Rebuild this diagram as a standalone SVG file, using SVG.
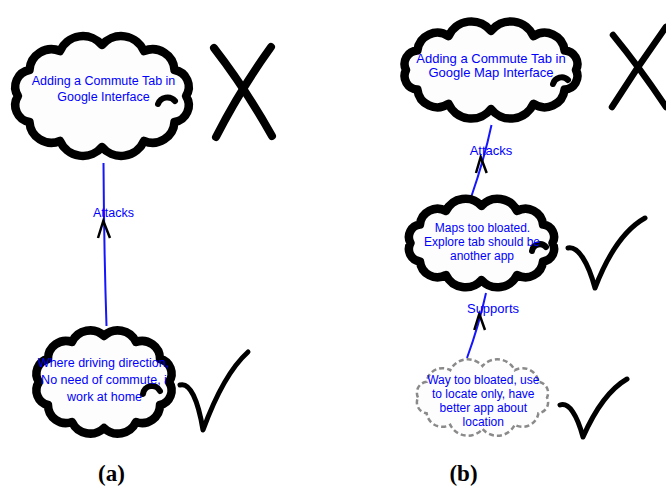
<svg xmlns="http://www.w3.org/2000/svg" width="666" height="491" viewBox="0 0 666 491">
<style>
.cloud{fill:#fdfdfd;stroke:#000;stroke-width:8.5;stroke-linejoin:round}
.dcloud{fill:#fdfdfd;stroke:#8a8a8a;stroke-width:2.5;stroke-dasharray:5 3}
.curl{fill:none;stroke:#000;stroke-width:6;stroke-linecap:round}
.mark{fill:none;stroke:#000;stroke-linecap:round;stroke-linejoin:round}
.t{font-family:"Liberation Sans",Arial,sans-serif;fill:#0000ff;text-anchor:middle}
.ta{font-size:12.5px}
.tb{font-size:13px}
.tc{font-size:12px}
.edge{fill:none;stroke:#1515ff;stroke-width:2}
.chev{fill:none;stroke:#000;stroke-width:2.5;stroke-linejoin:miter}
.cap{font-family:"Liberation Serif","Times New Roman",serif;font-weight:bold;font-size:23px;fill:#000;text-anchor:middle}
</style>
<rect width="666" height="491" fill="#fff"/>

<g id="connectors">
  <path class="edge" d="M103.5,163 Q104,250 106.5,326"/>
  <path class="chev" d="M98,238 L103.3,221 L110,238"/>
  <text class="t ta" x="113.5" y="216.5">Attacks</text>

  <path class="edge" d="M491.5,125 Q484,160 471.5,196"/>
  <path class="chev" d="M476,173 L480.7,157 L486.7,173"/>
  <text class="t tb" x="491" y="155">Attacks</text>

  <path class="edge" d="M486,293 Q479,325 467,358"/>
  <path class="chev" d="M474.3,330 L479.3,314 L485,330"/>
  <text class="t tb" x="493" y="312.5">Supports</text>
</g>

<g id="node-a1">
  <path class="cloud" d="M18,96 A17,17 0 0 1 29.5,70 A22,22 0 0 1 60,51 A25,25 0 0 1 102,45 A25,25 0 0 1 144,51 A22,22 0 0 1 174.5,70 A17,17 0 0 1 186,96 A17,17 0 0 1 174.5,122 A22,22 0 0 1 144,141 A25,25 0 0 1 102,147 A25,25 0 0 1 60,141 A22,22 0 0 1 29.5,122 A17,17 0 0 1 18,96 Z"/>
  <path class="curl" d="M158,104 A10,10 0 0 1 175,101"/>
  <text class="t ta" x="103.5" y="84.5">Adding a Commute Tab in</text>
  <text class="t ta" x="103.5" y="100.5">Google Interface</text>
</g>
<g id="mark-a1">
  <path class="mark" stroke-width="8" d="M214,48 Q245,88 272,136"/>
  <path class="mark" stroke-width="8" d="M271,47 Q240,90 216,137"/>
</g>

<g id="node-a2">
  <path class="cloud" d="M39,382 A15,15 0 0 1 48,359 A18,18 0 0 1 72,342 A20,20 0 0 1 104,336 A20,20 0 0 1 136,342 A18,18 0 0 1 160,359 A15,15 0 0 1 169,382 A15,15 0 0 1 160,405 A18,18 0 0 1 136,422 A20,20 0 0 1 104,428 A20,20 0 0 1 72,422 A18,18 0 0 1 48,405 A15,15 0 0 1 39,382 Z"/>
  <path class="curl" d="M143,394 A9,9 0 0 1 160,391"/>
  <text class="t ta" x="103.5" y="367">Where driving direction,</text>
  <text class="t ta" x="104" y="384">No need of commute, i</text>
  <text class="t ta" x="104.5" y="400.5">work at home</text>
</g>
<g id="mark-a2">
  <path class="mark" stroke-width="5" d="M180,385 C190,382 198,400 203,430 C214,400 228,370 248,352"/>
</g>

<g id="node-b1">
  <path class="cloud" stroke-width="7.5" d="M406,70 A13.5,13.5 0 0 1 417.4,50.5 A20,20 0 0 1 448.5,36.2 A25,25 0 0 1 491,31 A25,25 0 0 1 533.5,36.2 A20,20 0 0 1 564.6,50.5 A13.5,13.5 0 0 1 576,70 A13.5,13.5 0 0 1 564.6,89.5 A20,20 0 0 1 533.5,103.8 A25,25 0 0 1 491,109 A25,25 0 0 1 448.5,103.8 A20,20 0 0 1 417.4,89.5 A13.5,13.5 0 0 1 406,70 Z"/>
  <path class="curl" d="M553,84 A9,9 0 0 1 568,80"/>
  <text class="t tb" x="491" y="62.5">Adding a Commute Tab in</text>
  <text class="t tb" x="491" y="77">Google Map Interface</text>
</g>
<g id="mark-b1">
  <path class="mark" stroke-width="6.5" d="M613,35 Q640,68 666,107"/>
  <path class="mark" stroke-width="6.5" d="M666,27 Q638,66 612,107"/>
</g>

<g id="node-b2">
  <path class="cloud" stroke-width="7.5" d="M410.5,243 A12.5,12.5 0 0 1 420,224.5 A17.5,17.5 0 0 1 446,211 A21.5,21.5 0 0 1 481.5,206 A21.5,21.5 0 0 1 517,211 A17.5,17.5 0 0 1 543,224.5 A12.5,12.5 0 0 1 552.5,243 A12.5,12.5 0 0 1 543,261.5 A17.5,17.5 0 0 1 517,275 A21.5,21.5 0 0 1 481.5,280 A21.5,21.5 0 0 1 446,275 A17.5,17.5 0 0 1 420,261.5 A12.5,12.5 0 0 1 410.5,243 Z"/>
  <path class="curl" d="M532,251 A8,8 0 0 1 546,247"/>
  <text class="t tc" x="482.5" y="231.5">Maps too bloated.</text>
  <text class="t tc" x="482" y="245.5">Explore tab should be</text>
  <text class="t tc" x="482" y="259.5">another app</text>
</g>
<g id="mark-b2">
  <path class="mark" stroke-width="5" d="M568,248 C578,246 588,262 595,288 C605,262 620,232 645,218"/>
</g>

<g id="node-b3">
  <path class="dcloud" d="M418,397.5 A11,11 0 0 1 426.6,381.75 A16,16 0 0 1 450.25,370.2 A19.5,19.5 0 0 1 482.5,366 A19.5,19.5 0 0 1 514.75,370.2 A16,16 0 0 1 538.4,381.75 A11,11 0 0 1 547,397.5 A11,11 0 0 1 538.4,413.25 A16,16 0 0 1 514.75,424.8 A19.5,19.5 0 0 1 482.5,429 A19.5,19.5 0 0 1 450.25,424.8 A16,16 0 0 1 426.6,413.25 A11,11 0 0 1 418,397.5 Z"/>
  <text class="t tc" x="483.3" y="384">Way too bloated, use</text>
  <text class="t tc" x="483.3" y="398">to locate only, have</text>
  <text class="t tc" x="483.3" y="412">better app about</text>
  <text class="t tc" x="483.3" y="426">location</text>
</g>
<g id="mark-b3">
  <path class="mark" stroke-width="5" d="M560,405 C569,402 577,415 583,437 C594,412 608,390 627,379"/>
</g>

<text class="cap" x="111.5" y="481">(a)</text>
<text class="cap" x="463.5" y="481">(b)</text>
</svg>
